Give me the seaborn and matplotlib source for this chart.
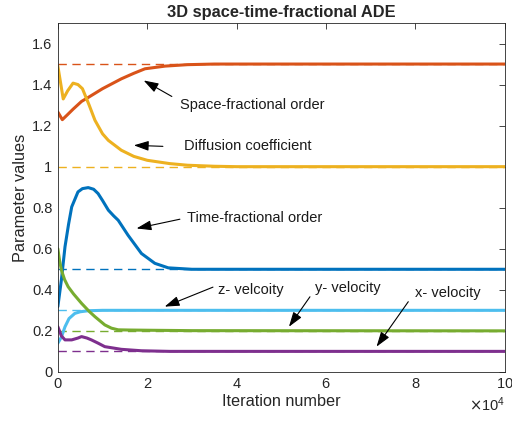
import numpy as np
import pandas as pd
import matplotlib
matplotlib.use('Agg')
import matplotlib.pyplot as plt
import seaborn as sns

# iteration positions (x10^4) and parameter values
space_x = [0, 0.1, 0.2, 0.34, 0.53, 0.7, 1.0, 1.42, 1.7, 1.95, 2.4, 2.9, 3.5, 10]
space_y = [1.266, 1.229, 1.25, 1.28, 1.318, 1.34, 1.38, 1.428, 1.455, 1.477, 1.49, 1.497, 1.5, 1.5]

diff_x = [0, 0.12, 0.22, 0.34, 0.45, 0.55, 0.7, 0.83, 1.0, 1.13, 1.42, 1.7, 2.0, 2.5, 2.9, 3.5, 4, 10]
diff_y = [1.49, 1.33, 1.37, 1.407, 1.40, 1.38, 1.30, 1.226, 1.16, 1.128, 1.08, 1.05, 1.031, 1.015, 1.007, 1.002, 1.0, 1.0]

time_x = [0, 0.08, 0.16, 0.24, 0.31, 0.45, 0.55, 0.68, 0.8, 0.9, 1.0, 1.13, 1.25, 1.35, 1.57, 1.87, 2.17, 2.47, 3.0, 4, 10]
time_y = [0.318, 0.45, 0.61, 0.72, 0.804, 0.877, 0.893, 0.898, 0.89, 0.869, 0.835, 0.788, 0.76, 0.739, 0.666, 0.577, 0.529, 0.507, 0.5, 0.5, 0.5]

zvel_x = [0, 0.08, 0.16, 0.25, 0.38, 0.5, 0.68, 1.0, 10]
zvel_y = [0.14, 0.17, 0.22, 0.26, 0.285, 0.293, 0.298, 0.3, 0.3]

yvel_x = [0, 0.04, 0.08, 0.15, 0.23, 0.35, 0.53, 0.7, 0.83, 1.05, 1.2, 1.35, 1.6, 2.0, 3.0, 10]
yvel_y = [0.6, 0.54, 0.496, 0.45, 0.415, 0.38, 0.334, 0.295, 0.269, 0.229, 0.213, 0.205, 0.204, 0.203, 0.201, 0.2]

xvel_x = [0, 0.08, 0.16, 0.31, 0.45, 0.53, 0.65, 0.75, 0.9, 1.05, 1.42, 1.87, 2.5, 3.5, 10]
xvel_y = [0.22, 0.175, 0.156, 0.156, 0.165, 0.172, 0.165, 0.156, 0.14, 0.123, 0.11, 0.103, 0.1, 0.1, 0.1]

true_values = [1.5, 1.0, 0.5, 0.3, 0.2, 0.1]
colors = ['#D95319', '#EDB120', '#0072BD', '#4DBEEE', '#77AC30', '#7E2F8E']

series = [(space_x, space_y), (diff_x, diff_y), (time_x, time_y),
          (zvel_x, zvel_y), (yvel_x, yvel_y), (xvel_x, xvel_y)]

# annotation text, arrow head, arrow tail, text position (x in 1e4)
labels = ['Space-fractional order', 'Diffusion coefficient', 'Time-fractional order',
          'z- velcoity', 'y- velocity', 'x- velocity']
heads = [(1.92, 1.42), (1.70, 1.104), (1.76, 0.699), (2.39, 0.318), (5.17, 0.22), (7.13, 0.123)]
tails = [(2.55, 1.342), (2.35, 1.099), (2.73, 0.744), (3.47, 0.413), (5.64, 0.366), (7.84, 0.342)]
text_pos = [(2.73, 1.30), (2.82, 1.10), (2.89, 0.749), (3.58, 0.399), (5.75, 0.409), (7.99, 0.384)]

sns.set_style('white')
plt.rcParams['font.family'] = ['Liberation Sans', 'DejaVu Sans']

fig = plt.figure(figsize=(5.12, 4.26), dpi=100)
ax = fig.add_axes([0.113, 0.127, 0.873, 0.819])

# dashed reference lines (true values)
for val, c in zip(true_values, colors):
    df_ref = pd.DataFrame({'x': [0, 1e5], 'y': [val, val]})
    sns.lineplot(data=df_ref, x='x', y='y', ax=ax, color=c, lw=1.0, linestyle=(0, (6, 4)))

# estimated parameter curves
for (xs, ys), c in zip(series, colors):
    df = pd.DataFrame({'x': np.array(xs) * 1e4, 'y': ys})
    sns.lineplot(data=df, x='x', y='y', ax=ax, color=c, lw=2.2)

ax.set_xlim(0, 1e5)
ax.set_ylim(0, 1.7)
ax.set_xticks(np.arange(0, 1.01e5, 2e4))
ax.set_yticks(np.arange(0, 1.61, 0.2))
ax.set_yticklabels(['0', '0.2', '0.4', '0.6', '0.8', '1', '1.2', '1.4', '1.6'])
ax.ticklabel_format(style='sci', axis='x', scilimits=(4, 4), useMathText=True)
ax.xaxis.get_offset_text().set_fontsize(10.5)
ax.xaxis.get_offset_text().set_color('#262626')

ax.tick_params(direction='in', top=True, right=True, length=4, width=0.6,
               labelsize=10.5, color='#262626', labelcolor='#262626', pad=4)
for s in ax.spines.values():
    s.set_linewidth(0.6)
    s.set_color('#262626')

ax.set_xlabel('Iteration number', fontsize=11.7, color='#262626', labelpad=2)
ax.set_ylabel('Parameter values', fontsize=11.7, color='#262626', labelpad=3)
ax.set_title('3D space-time-fractional ADE', fontsize=11.8, fontweight='bold', pad=4)

arrow = dict(arrowstyle='-|>,head_length=0.9,head_width=0.3', color='k', lw=0.8,
             shrinkA=0, shrinkB=0)
for txt, h, t, p in zip(labels, heads, tails, text_pos):
    ax.annotate('', xy=(h[0] * 1e4, h[1]), xytext=(t[0] * 1e4, t[1]), arrowprops=arrow)
    ax.text(p[0] * 1e4, p[1], txt, fontsize=10.5, va='center', ha='left', color='#1a1a1a')

fig.savefig('out.png', dpi=100)
